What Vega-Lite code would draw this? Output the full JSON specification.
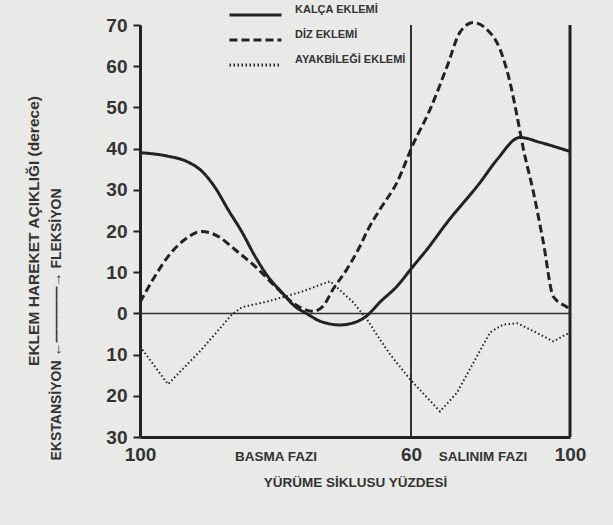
{
  "$schema": "https://vega.github.io/schema/vega-lite/v6.json",
  "width": 430,
  "height": 412,
  "autosize": {"type": "none"},
  "padding": {"left": 140, "top": 25, "right": 43, "bottom": 88},
  "background": "#e9e9e7",
  "title": {"text": "EKLEM HAREKET AÇIKLIĞI (derece)", "orient": "left", "anchor": "middle", "fontSize": 15.5, "fontWeight": "bold", "color": "#333", "font": "Liberation Sans", "offset": 7},
  "config": {"view": {"stroke": null}, "font": "Liberation Sans"},
  "data": {"values": [
    {"eklem": "KALÇA EKLEMİ", "x": 0, "y": 39},
    {"eklem": "KALÇA EKLEMİ", "x": 6, "y": 38.2},
    {"eklem": "KALÇA EKLEMİ", "x": 10.5, "y": 36.8},
    {"eklem": "KALÇA EKLEMİ", "x": 13.7, "y": 34.5},
    {"eklem": "KALÇA EKLEMİ", "x": 16.6, "y": 30.6},
    {"eklem": "KALÇA EKLEMİ", "x": 19.5, "y": 25.2},
    {"eklem": "KALÇA EKLEMİ", "x": 22.6, "y": 19.7},
    {"eklem": "KALÇA EKLEMİ", "x": 25.5, "y": 13.8},
    {"eklem": "KALÇA EKLEMİ", "x": 28.3, "y": 9.0},
    {"eklem": "KALÇA EKLEMİ", "x": 31.4, "y": 5.1},
    {"eklem": "KALÇA EKLEMİ", "x": 34.3, "y": 1.7},
    {"eklem": "KALÇA EKLEMİ", "x": 37, "y": -0.1},
    {"eklem": "KALÇA EKLEMİ", "x": 39.9, "y": -1.9},
    {"eklem": "KALÇA EKLEMİ", "x": 44.3, "y": -2.8},
    {"eklem": "KALÇA EKLEMİ", "x": 48, "y": -2.0},
    {"eklem": "KALÇA EKLEMİ", "x": 50.3, "y": -0.5},
    {"eklem": "KALÇA EKLEMİ", "x": 53.1, "y": 2.7},
    {"eklem": "KALÇA EKLEMİ", "x": 56.9, "y": 6.6},
    {"eklem": "KALÇA EKLEMİ", "x": 60.5, "y": 11.4},
    {"eklem": "KALÇA EKLEMİ", "x": 64, "y": 15.5},
    {"eklem": "KALÇA EKLEMİ", "x": 69.1, "y": 22.1},
    {"eklem": "KALÇA EKLEMİ", "x": 77.4, "y": 31.8},
    {"eklem": "KALÇA EKLEMİ", "x": 81.7, "y": 37.4},
    {"eklem": "KALÇA EKLEMİ", "x": 87.4, "y": 42.7},
    {"eklem": "KALÇA EKLEMİ", "x": 92.5, "y": 41.5},
    {"eklem": "KALÇA EKLEMİ", "x": 100, "y": 39.3},
    {"eklem": "DİZ EKLEMİ", "x": 0, "y": 2.7},
    {"eklem": "DİZ EKLEMİ", "x": 3.3, "y": 9.0},
    {"eklem": "DİZ EKLEMİ", "x": 6.2, "y": 13.8},
    {"eklem": "DİZ EKLEMİ", "x": 10, "y": 18},
    {"eklem": "DİZ EKLEMİ", "x": 13.7, "y": 19.9},
    {"eklem": "DİZ EKLEMİ", "x": 17.3, "y": 18.7},
    {"eklem": "DİZ EKLEMİ", "x": 21, "y": 15.5},
    {"eklem": "DİZ EKLEMİ", "x": 25.5, "y": 11.4},
    {"eklem": "DİZ EKLEMİ", "x": 29.9, "y": 6.6},
    {"eklem": "DİZ EKLEMİ", "x": 33.7, "y": 2.7},
    {"eklem": "DİZ EKLEMİ", "x": 35.4, "y": 1.5},
    {"eklem": "DİZ EKLEMİ", "x": 38.3, "y": 0.5},
    {"eklem": "DİZ EKLEMİ", "x": 40.5, "y": 1.7},
    {"eklem": "DİZ EKLEMİ", "x": 42.7, "y": 5.8},
    {"eklem": "DİZ EKLEMİ", "x": 45.8, "y": 10.7},
    {"eklem": "DİZ EKLEMİ", "x": 48.7, "y": 16.3},
    {"eklem": "DİZ EKLEMİ", "x": 50.5, "y": 20.4},
    {"eklem": "DİZ EKLEMİ", "x": 53.1, "y": 25.2},
    {"eklem": "DİZ EKLEMİ", "x": 56.9, "y": 31.8},
    {"eklem": "DİZ EKLEMİ", "x": 60.5, "y": 41},
    {"eklem": "DİZ EKLEMİ", "x": 64.8, "y": 49.5},
    {"eklem": "DİZ EKLEMİ", "x": 69.1, "y": 60},
    {"eklem": "DİZ EKLEMİ", "x": 72.3, "y": 68.2},
    {"eklem": "DİZ EKLEMİ", "x": 75.6, "y": 70.6},
    {"eklem": "DİZ EKLEMİ", "x": 79.1, "y": 68.9},
    {"eklem": "DİZ EKLEMİ", "x": 82.4, "y": 64.1},
    {"eklem": "DİZ EKLEMİ", "x": 84.9, "y": 56.1},
    {"eklem": "DİZ EKLEMİ", "x": 86.7, "y": 47.8},
    {"eklem": "DİZ EKLEMİ", "x": 88.3, "y": 39.8},
    {"eklem": "DİZ EKLEMİ", "x": 90.8, "y": 29.4},
    {"eklem": "DİZ EKLEMİ", "x": 93.3, "y": 17.2},
    {"eklem": "DİZ EKLEMİ", "x": 95.8, "y": 4.1},
    {"eklem": "DİZ EKLEMİ", "x": 99.3, "y": 1.5},
    {"eklem": "DİZ EKLEMİ", "x": 100, "y": 1.0},
    {"eklem": "AYAKBİLEĞİ EKLEMİ", "x": 0, "y": -8},
    {"eklem": "AYAKBİLEĞİ EKLEMİ", "x": 6.2, "y": -17.2},
    {"eklem": "AYAKBİLEĞİ EKLEMİ", "x": 13.7, "y": -8.7},
    {"eklem": "AYAKBİLEĞİ EKLEMİ", "x": 20.4, "y": -0.2},
    {"eklem": "AYAKBİLEĞİ EKLEMİ", "x": 22.6, "y": 1.5},
    {"eklem": "AYAKBİLEĞİ EKLEMİ", "x": 28.3, "y": 2.9},
    {"eklem": "AYAKBİLEĞİ EKLEMİ", "x": 35.9, "y": 5.3},
    {"eklem": "AYAKBİLEĞİ EKLEMİ", "x": 42.1, "y": 7.8},
    {"eklem": "AYAKBİLEĞİ EKLEMİ", "x": 47.2, "y": 2.7},
    {"eklem": "AYAKBİLEĞİ EKLEMİ", "x": 50.3, "y": -1.5},
    {"eklem": "AYAKBİLEĞİ EKLEMİ", "x": 53.1, "y": -6.3},
    {"eklem": "AYAKBİLEĞİ EKLEMİ", "x": 55.4, "y": -10},
    {"eklem": "AYAKBİLEĞİ EKLEMİ", "x": 59.8, "y": -16},
    {"eklem": "AYAKBİLEĞİ EKLEMİ", "x": 67.3, "y": -23.8},
    {"eklem": "AYAKBİLEĞİ EKLEMİ", "x": 71.6, "y": -19.2},
    {"eklem": "AYAKBİLEĞİ EKLEMİ", "x": 76.6, "y": -10.4},
    {"eklem": "AYAKBİLEĞİ EKLEMİ", "x": 79.9, "y": -4.6},
    {"eklem": "AYAKBİLEĞİ EKLEMİ", "x": 83.2, "y": -2.7},
    {"eklem": "AYAKBİLEĞİ EKLEMİ", "x": 86.7, "y": -2.4},
    {"eklem": "AYAKBİLEĞİ EKLEMİ", "x": 90, "y": -3.9},
    {"eklem": "AYAKBİLEĞİ EKLEMİ", "x": 95.8, "y": -6.8},
    {"eklem": "AYAKBİLEĞİ EKLEMİ", "x": 100, "y": -4.6}
  ]},
  "layer": [
    {
      "data": {"values": [{}]},
      "mark": {"type": "rule", "color": "#333", "strokeWidth": 1.5},
      "encoding": {"y": {"datum": 0, "type": "quantitative"}}
    },
    {
      "data": {"values": [{}]},
      "mark": {"type": "rule", "color": "#333", "strokeWidth": 2},
      "encoding": {"x": {"datum": 60, "type": "quantitative"}}
    },
    {
      "data": {"values": [{}]},
      "mark": {"type": "rule", "color": "#222", "strokeWidth": 3},
      "encoding": {"x": {"datum": 100, "type": "quantitative"}}
    },
    {
      "transform": [{"filter": {"field": "eklem", "oneOf": ["KALÇA EKLEMİ", "DİZ EKLEMİ"]}}],
      "mark": {"type": "line", "interpolate": "monotone", "color": "#222", "strokeWidth": 3},
      "encoding": {
        "x": {"field": "x", "type": "quantitative",
          "scale": {"domain": [0, 60, 100], "range": [0, 271, 430], "nice": false, "zero": false},
          "axis": {"values": [0, 30, 60, 78, 100],
            "labelExpr": "datum.value == 0 ? '100' : datum.value == 30 ? 'BASMA FAZI' : datum.value == 78 ? 'SALINIM FAZI' : datum.label",
            "labelFontSize": {"condition": {"test": "datum.value == 30 || datum.value == 78", "value": 13.5}, "value": 19},
            "labelFontWeight": "bold", "labelColor": "#333", "labelBaseline": "alphabetic", "labelPadding": 23,
            "labelFlush": false, "labelOverlap": false, "ticks": false, "domainWidth": 3, "domainColor": "#222", "grid": false,
            "title": "YÜRÜME SİKLUSU YÜZDESİ", "titleFontSize": 13.5, "titleFontWeight": "bold", "titleColor": "#333",
            "titleY": 45, "titleBaseline": "middle"}},
        "y": {"field": "y", "type": "quantitative",
          "scale": {"domain": [-30, 70], "nice": false, "zero": false},
          "axis": {"values": [-30, -20, -10, 0, 10, 20, 30, 40, 50, 60, 70],
            "labelExpr": "'' + abs(datum.value)",
            "labelFontSize": 19, "labelFontWeight": "bold", "labelColor": "#333", "labelPadding": 6,
            "tickSize": 7, "tickWidth": 2, "tickColor": "#222", "domainWidth": 3, "domainColor": "#222", "grid": false,
            "title": "EKSTANSİYON ←————→ FLEKSİYON", "titleFontSize": 14, "titleFontWeight": "bold", "titleColor": "#333",
            "titleX": -84, "titleY": 299, "titleBaseline": "middle", "titleAlign": "center"}},
        "strokeDash": {"field": "eklem", "type": "nominal",
          "scale": {"domain": ["KALÇA EKLEMİ", "DİZ EKLEMİ", "AYAKBİLEĞİ EKLEMİ"], "range": [[1, 0], [8, 4], [1.5, 2.5]]},
          "legend": {"orient": "none", "legendX": 88, "legendY": -16, "title": null,
            "symbolType": "stroke", "symbolSize": 2704, "symbolStrokeWidth": 3, "symbolStrokeColor": "#222",
            "clipHeight": 12, "rowPadding": 8, "labelFontSize": 11, "labelFontWeight": "bold", "labelColor": "#333",
            "labelOffset": 12, "labelBaseline": "bottom", "labelLimit": 300}}
      }
    },
    {
      "transform": [{"filter": {"field": "eklem", "equal": "AYAKBİLEĞİ EKLEMİ"}}],
      "mark": {"type": "line", "color": "#222", "strokeWidth": 2},
      "encoding": {
        "x": {"field": "x", "type": "quantitative"},
        "y": {"field": "y", "type": "quantitative"},
        "strokeDash": {"field": "eklem", "type": "nominal", "legend": null}
      }
    }
  ]
}
